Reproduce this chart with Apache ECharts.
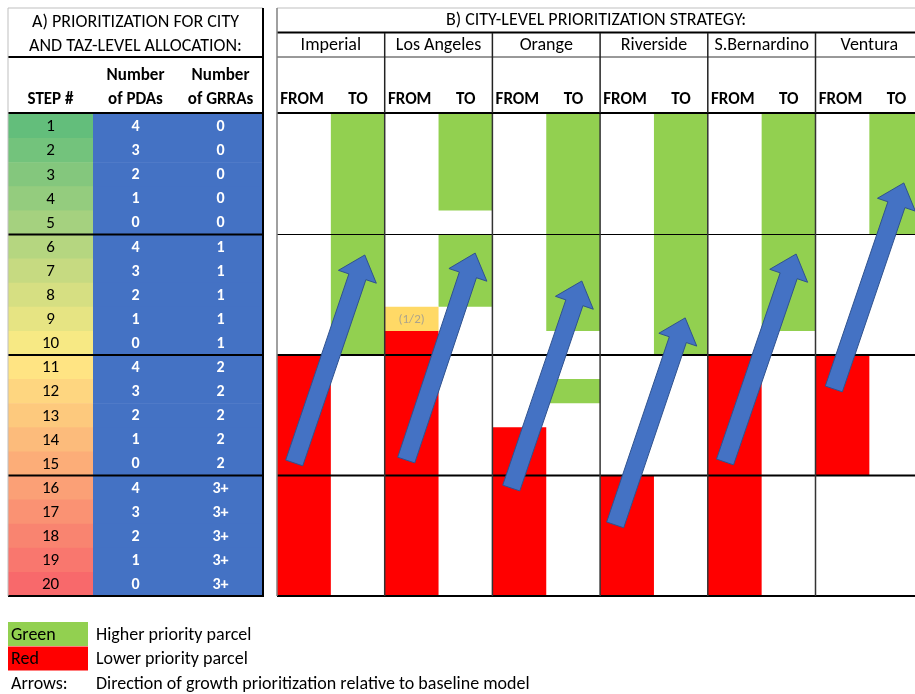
<!DOCTYPE html>
<html><head><meta charset="utf-8">
<script src="https://cdn.jsdelivr.net/npm/echarts@6/dist/echarts.min.js"></script>
<style>html,body{margin:0;padding:0;background:#fff}#c{width:915px;height:694px}</style>
</head><body><div id="c"></div>
<script>
// ---------------- data ----------------
const steps = [1,2,3,4,5,6,7,8,9,10,11,12,13,14,15,16,17,18,19,20];
const pdaCounts = ['4','3','2','1','0','4','3','2','1','0','4','3','2','1','0','4','3','2','1','0'];
const grraCounts = ['0','0','0','0','0','1','1','1','1','1','2','2','2','2','2','3+','3+','3+','3+','3+'];
const cities = ['Imperial','Los Angeles','Orange','Riverside','S.Bernardino','Ventura'];
const sides = ['FROM','TO'];
// higher priority (green) runs in TO column: [cityIndex, firstStep, lastStep]
const greenRuns = [[0,1,10],[1,1,4],[1,6,8],[2,1,9],[2,12,12],[3,1,10],[4,1,9],[5,1,5]];
// lower priority (red) runs in FROM column: [cityIndex, firstStep, lastStep]
const redRuns = [[0,11,20],[1,10,20],[2,14,20],[3,16,20],[4,11,20],[5,11,15]];
// half-priority cell in FROM column: [cityIndex, firstStep, lastStep, label]
const halfRuns = [[1,9,9,'(1/2)']];
// arrows: [tailX, tailStep, headX, headStep]  (x in half-column units, y in step units)
const arrows = [
  [0.32,14.48,1.63,5.85],
  [2.40,14.36,3.68,5.77],
  [4.35,15.52,5.66,6.93],
  [6.28,17.05,7.58,8.46],
  [8.32,14.44,9.64,5.81],
  [10.34,11.41,11.64,2.86]
];
const groupBreaks = [5,10,15,20];
const titleA = ['A) PRIORITIZATION FOR CITY','AND TAZ-LEVEL ALLOCATION:'];
const titleB = 'B) CITY-LEVEL PRIORITIZATION STRATEGY:';
const colHeads = [['','STEP #'],['Number','of PDAs'],['Number','of GRRAs']];
const legendItems = [
  ['Green','Higher priority parcel','#92D050'],
  ['Red','Lower priority parcel','#FF0000'],
  ['Arrows:','Direction of growth prioritization relative to baseline model',null]
];

// ---------------- layout / style ----------------
const FONT = "Carlito, 'Liberation Sans Narrow', Lato, sans-serif";
function f(size, bold){ return (bold ? 'bold ' : '') + size + 'px ' + FONT; }
const GREEN = '#92D050', RED = '#FF0000', YEL = '#FFD966', BLUE = '#4472C4';
const L0 = 8, W0 = 255, L1 = 277, TOP = 114, BH = 482, HALF = 53.85;
const XMAX1 = (915 - L1) / HALF;
const HS = 18; // header / legend font size

function lerp(a,b,t){ return a.map((v,i)=>Math.round(v + (b[i]-v)*t)); }
const cMin=[99,190,123], cMid=[255,235,132], cMax=[248,105,107];
function stepColor(s){
  const lo = steps[0], hi = steps[steps.length-1], mid = (lo+hi)/2;
  const c = s <= mid ? lerp(cMin,cMid,(s-lo)/(mid-lo)) : lerp(cMid,cMax,(s-mid)/(hi-mid));
  return 'rgb(' + c.join(',') + ')';
}

function rectRender(color){
  return function(params, api){
    const p0 = api.coord([api.value(0), api.value(1)]);
    const p1 = api.coord([api.value(2), api.value(3)]);
    return {type:'rect', shape:{x:p0[0], y:p0[1], width:p1[0]-p0[0], height:p1[1]-p0[1]}, style:{fill:color}};
  };
}

const chart = echarts.init(document.getElementById('c'));

const graphics = [];
function line(x1,y1,x2,y2,w,c){ graphics.push({type:'line', shape:{x1,y1,x2,y2}, style:{stroke:c, lineWidth:w}, z:10}); }
function txt(t,x,y,size,bold,align,color){ graphics.push({type:'text', x, y, style:{text:t, font:f(size,bold), fill:color||'#000', align:align||'center', verticalAlign:'middle'}, z:11}); }

// header texts
txt(titleA[0], L0 + W0/2, 22, HS, false);
txt(titleA[1], L0 + W0/2, 46, HS, false);
colHeads.forEach((h,i)=>{
  const cx = L0 + W0/3*(i+0.5);
  if (h[0]) txt(h[0], cx, 76, 17, true);
  txt(h[1], cx, 100, 17, true);
});
txt(titleB, (L1+915)/2, 20, HS, false);
cities.forEach((c,i)=>{
  const left = L1 + 2*HALF*i;
  txt(c, left + HALF, 45, HS, false);
  txt(sides[0], left + 25, 100, 17, true);
  txt(sides[1], left + 81, 100, 17, true);
});
// header lines
line(L0,8,L0+W0,8,1,'#bfbfbf');
line(L1,8,915,8,1,'#bfbfbf');
line(L0,57,L0+W0,57,2,'#000');
line(L1,32.5,915,32.5,2,'#000');
line(L1,57,915,57,1,'#333');
line(L0,113,L0+W0,113,2,'#000');
line(L1,113,915,113,2,'#000');
line(L0+W0,8,L0+W0,597,2,'#000');
line(L0,8,L0,596,1,'#bfbfbf');
line(L1,8,L1,596,1.5,'#808080');
for (let i=1;i<cities.length;i++){ const x=L1+2*HALF*i; line(x,33,x,113,1.5,'#222'); }
// legend
legendItems.forEach((it,i)=>{
  const cy = 634 + i*24.5;
  if (it[2]) graphics.push({type:'rect', shape:{x:8,y:cy-12,width:80,height:24}, style:{fill:it[2]}, z:9});
  txt(it[0], 11, cy+1, HS, false, 'left');
  txt(it[1], 96, cy+1, HS, false, 'left');
});

const option = {
  animation:false,
  grid:[
    {left:L0, top:TOP, width:W0, height:BH},
    {left:L1, top:TOP, right:0, height:BH}
  ],
  xAxis:[
    {gridIndex:0, type:'value', min:0, max:3, show:false},
    {gridIndex:1, type:'value', min:0, max:XMAX1, show:false}
  ],
  yAxis:[
    {gridIndex:0, type:'value', min:0, max:20, inverse:true, show:false},
    {gridIndex:1, type:'value', min:0, max:20, inverse:true, show:false}
  ],
  series:[
    { // left table
      type:'custom', xAxisIndex:0, yAxisIndex:0, z:2,
      data: steps.map(s=>[0.5, s-0.5]),
      renderItem(params, api){
        const i = params.dataIndex, s = steps[i];
        const a = api.coord([0, s-1]), b = api.coord([1, s]), c = api.coord([3, s]);
        const m0 = api.coord([0.5, s-0.5]), m1 = api.coord([1.5, s-0.5]), m2 = api.coord([2.5, s-0.5]);
        const h = b[1]-a[1]+0.6;
        return {type:'group', children:[
          {type:'rect', shape:{x:a[0], y:a[1], width:b[0]-a[0], height:h}, style:{fill:stepColor(s)}},
          {type:'rect', shape:{x:b[0], y:a[1], width:c[0]-b[0], height:h}, style:{fill:BLUE}},
          {type:'text', x:m0[0], y:m0[1]+1, style:{text:String(s), font:f(17,false), fill:'#000', align:'center', verticalAlign:'middle'}},
          {type:'text', x:m1[0], y:m1[1]+1, style:{text:pdaCounts[i], font:f(16,true), fill:'#fff', align:'center', verticalAlign:'middle'}},
          {type:'text', x:m2[0], y:m2[1]+1, style:{text:grraCounts[i], font:f(16,true), fill:'#fff', align:'center', verticalAlign:'middle'}}
        ]};
      }
    },
    { // left table horizontal group lines
      type:'custom', xAxisIndex:0, yAxisIndex:0, z:5,
      data: groupBreaks.map(b=>[0,b]),
      renderItem(params, api){
        const p0 = api.coord([0, api.value(1)]), p1 = api.coord([3, api.value(1)]);
        return {type:'line', shape:{x1:p0[0], y1:p0[1], x2:p1[0], y2:p1[1]}, style:{stroke:'#000', lineWidth:2}};
      }
    },
    { type:'custom', xAxisIndex:1, yAxisIndex:1, z:2, clip:true,
      data: greenRuns.map(r=>[2*r[0]+1, r[1]-1, 2*r[0]+2, r[2]]), renderItem: rectRender(GREEN) },
    { type:'custom', xAxisIndex:1, yAxisIndex:1, z:2, clip:true,
      data: redRuns.map(r=>[2*r[0], r[1]-1, 2*r[0]+1, r[2]]), renderItem: rectRender(RED) },
    { type:'custom', xAxisIndex:1, yAxisIndex:1, z:2,
      data: halfRuns.map(r=>[2*r[0], r[1]-1, 2*r[0]+1, r[2]]),
      renderItem(params, api){
        const p0 = api.coord([api.value(0), api.value(1)]), p1 = api.coord([api.value(2), api.value(3)]);
        return {type:'group', children:[
          {type:'rect', shape:{x:p0[0], y:p0[1], width:p1[0]-p0[0], height:p1[1]-p0[1]}, style:{fill:YEL}},
          {type:'text', x:(p0[0]+p1[0])/2, y:(p0[1]+p1[1])/2+1, style:{text:halfRuns[params.dataIndex][3], font:f(13,false), fill:'#ADA48C', align:'center', verticalAlign:'middle'}}
        ]};
      }
    },
    { // right table lines
      type:'custom', xAxisIndex:1, yAxisIndex:1, z:5,
      data: groupBreaks.map(b=>[0,b]).concat(cities.slice(1).map((c,i)=>[2*(i+1), -1])),
      renderItem(params, api){
        const x = api.value(0), y = api.value(1);
        if (y >= 0){
          const p0 = api.coord([0, y]), p1 = api.coord([XMAX1, y]);
          return {type:'line', shape:{x1:p0[0], y1:p0[1], x2:p1[0], y2:p1[1]}, style:{stroke:'#000', lineWidth: y===groupBreaks[0] ? 1 : 2}};
        }
        const p0 = api.coord([x, 0]), p1 = api.coord([x, 20]);
        return {type:'line', shape:{x1:p0[0], y1:p0[1], x2:p1[0], y2:p1[1]}, style:{stroke:'#333', lineWidth:1.5}};
      }
    },
    { // arrows
      type:'custom', xAxisIndex:1, yAxisIndex:1, z:8,
      data: arrows,
      renderItem(params, api){
        const t = api.coord([api.value(0), api.value(1)]), h = api.coord([api.value(2), api.value(3)]);
        const dx = h[0]-t[0], dy = h[1]-t[1], len = Math.hypot(dx,dy);
        const ux = dx/len, uy = dy/len, nx = -uy, ny = ux;
        const sw = 9, hw = 20, hl = 23;
        const bx = h[0]-ux*hl, by = h[1]-uy*hl;
        const pts = [
          [t[0]+nx*sw, t[1]+ny*sw], [bx+nx*sw, by+ny*sw], [bx+nx*hw, by+ny*hw], [h[0], h[1]],
          [bx-nx*hw, by-ny*hw], [bx-nx*sw, by-ny*sw], [t[0]-nx*sw, t[1]-ny*sw]
        ];
        return {type:'polygon', shape:{points:pts}, style:{fill:BLUE, stroke:'#2F528F', lineWidth:1}};
      }
    }
  ],
  graphic: graphics
};
chart.setOption(option);
</script>
</body></html>
